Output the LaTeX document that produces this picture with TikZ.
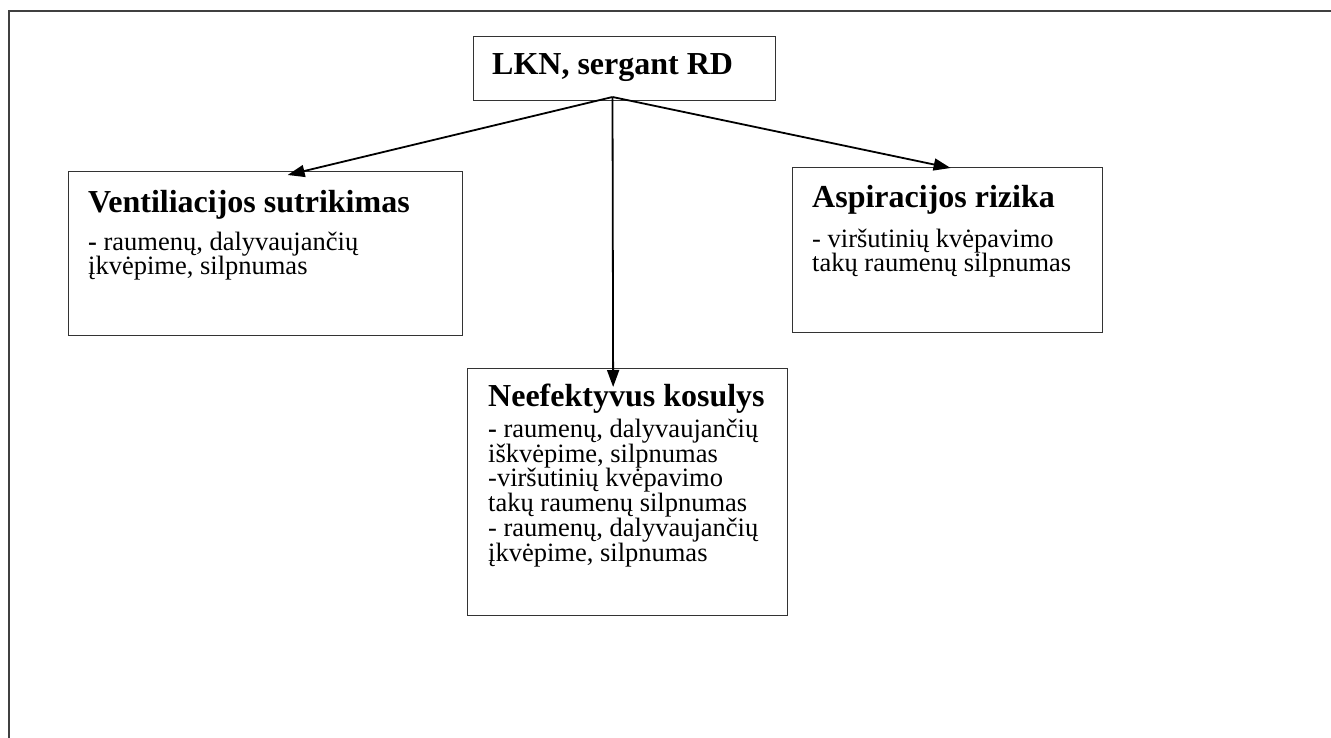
\documentclass[tikz,border=0pt]{standalone}
\usepackage{fontspec}
\setmainfont{Liberation Serif}
\usetikzlibrary{arrows.meta}
\begin{document}
\begin{tikzpicture}[x=1pt,y=-1pt,
  frame/.style={draw=black!75, line width=1.5pt},
  box/.style={draw=black!80, line width=1.3pt, anchor=north west, inner sep=0pt},
  title/.style={anchor=base west, inner sep=0pt, font=\bfseries\fontsize{32}{36}\selectfont},
  body/.style={anchor=base west, inner sep=0pt, align=left, font=\fontsize{26.5}{24.7}\selectfont},
  arr/.style={line width=1.8pt, -{Triangle[length=17pt,width=12pt]}}]
\useasboundingbox (0,0) rectangle (1331,738);
\draw[frame] (1331,11) -- (9,11) -- (9,738);
% boxes
\node[box, minimum width=302, minimum height=64] (lkn) at (473,36) {};
\node[title] (lknT) at (492,75) {LKN, sergant RD};
\node[box, minimum width=394, minimum height=164] (vent) at (68,171) {};
\node[title] (ventT) at (88,213) {Ventiliacijos sutrikimas};
\node[body] (ventB) at (88,275) {\textbf{-} raumenų, dalyvaujančių\\įkvėpime, silpnumas};
\node[box, minimum width=310, minimum height=165] (asp) at (792,167) {};
\node[title] (aspT) at (812,208) {Aspiracijos rizika};
\node[body] (aspB) at (812,272) {- viršutinių kvėpavimo\\takų raumenų silpnumas};
\node[box, minimum width=320, minimum height=247] (nee) at (467,368) {};
\node[title] (neeT) at (488,406) {Neefektyvus kosulys};
\node[body] (neeB) at (488,561) {\textbf{-} raumenų, dalyvaujančių\\iškvėpime, silpnumas\\-viršutinių kvėpavimo\\takų raumenų silpnumas\\- raumenų, dalyvaujančių\\įkvėpime, silpnumas};
% connectors
\coordinate (apex) at (612.5,97);
\draw[arr] (apex) -- ([xshift=22pt,yshift=-4pt]vent.north);
\draw[arr] (apex) -- ([xshift=3pt,yshift=-1pt]asp.north);
\draw[arr] (apex) -- ([xshift=-14.5pt,yshift=-19pt]nee.north);
\end{tikzpicture}
\end{document}
